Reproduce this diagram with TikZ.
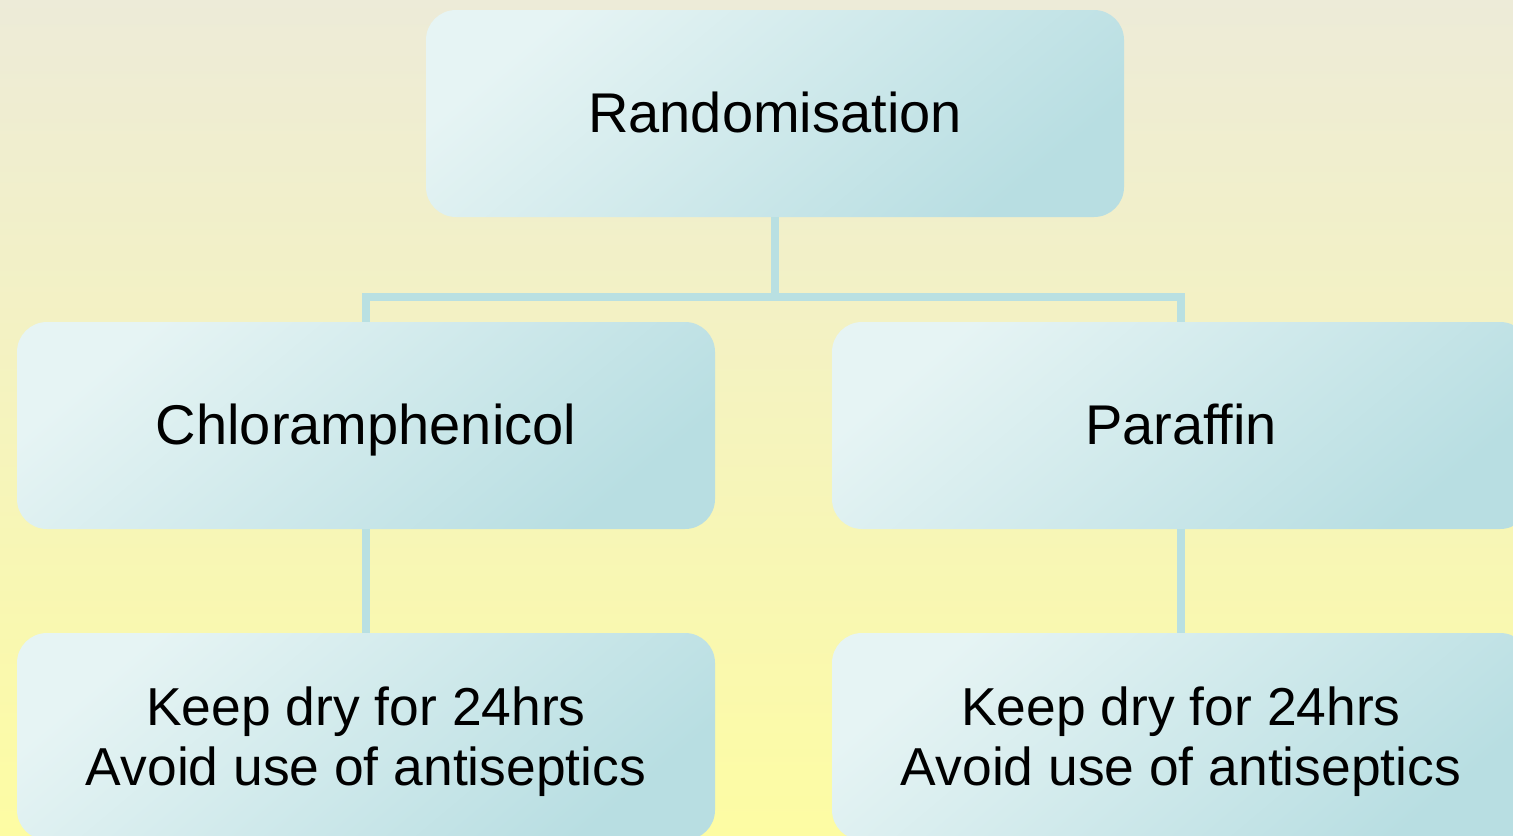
\documentclass[tikz,border=0pt]{standalone}
\usepackage{fontspec}
\setmainfont{Liberation Sans}
\definecolor{bgtop}{RGB}{237,235,216}
\definecolor{bgbottom}{RGB}{253,252,163}
\definecolor{boxlight}{RGB}{230,244,244}
\definecolor{boxdark}{RGB}{184,222,226}
\definecolor{connc}{RGB}{185,224,226}
\newcommand\celltext[2]{\raisebox{#1}[0pt][0pt]{\begin{tabular}[t]{@{}c@{}}#2\end{tabular}}}
\tikzset{
  card/.style={rounded corners=15pt, minimum width=349pt, minimum height=103.5pt,
    top color=boxlight, bottom color=boxdark, shading angle=40,
    draw=none, inner sep=0pt, text=black},
  bigtext/.style={font=\fontsize{28}{32}\selectfont},
  smalltext/.style={font=\fontsize{26.7}{30}\selectfont},
  conn/.style={draw=connc, line width=4pt, line join=miter}
}
\begin{document}
\begin{tikzpicture}[x=0.5pt,y=-0.5pt]
\useasboundingbox (0,0) rectangle (1513,835);
\clip (0,0) rectangle (1513,835);
\shade[top color=bgtop, bottom color=bgbottom] (0,0) rectangle (1513,835);
\node[card,bigtext] (top) at (775,113.5) {\celltext{-9.5pt}{Randomisation}};
\node[card,bigtext] (chl) at (366,425.5) {\celltext{-9.5pt}{Chloramphenicol}};
\node[card,bigtext] (par) at (1181,425.5) {\celltext{-9.5pt}{Paraffin}};
\node[card,smalltext] (chlb) at (366,736.5) {\celltext{5.6pt}{Keep dry for 24hrs\\Avoid use of antiseptics}};
\node[card,smalltext] (parb) at (1181,736.5) {\celltext{5.6pt}{Keep dry for 24hrs\\Avoid use of antiseptics}};
\coordinate (mid) at (775,297);
\draw[conn] (top.south) -- (mid) -| (chl.north);
\draw[conn] (mid) -| (par.north);
\draw[conn] (chl.south) -- (chlb.north);
\draw[conn] (par.south) -- (parb.north);
\end{tikzpicture}
\end{document}
